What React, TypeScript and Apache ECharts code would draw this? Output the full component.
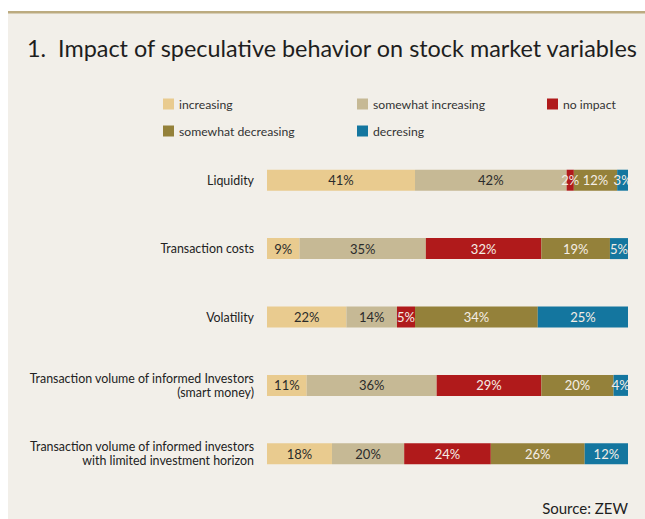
import React, { useEffect, useRef } from "react";
import * as echarts from "echarts";

const categories = [
  "Liquidity",
  "Transaction costs",
  "Volatility",
  "Transaction volume of informed Investors\n(smart money)",
  "Transaction volume of informed investors\nwith limited investment horizon",
];
const seriesNames = ["increasing", "somewhat increasing", "no impact", "somewhat decreasing", "decresing"];
const increasing = [41, 9, 22, 11, 18];
const somewhatIncreasing = [42, 35, 14, 36, 20];
const noImpact = [2, 32, 5, 29, 24];
const somewhatDecreasing = [12, 19, 34, 20, 26];
const decreasing = [3, 5, 25, 4, 12];
const seriesData = [increasing, somewhatIncreasing, noImpact, somewhatDecreasing, decreasing];
const colors = ["#e9cb8f", "#c6b995", "#b01a1b", "#94813a", "#14769f"];
const labelColors = ["#2b2b2b", "#2b2b2b", "#f4eee6", "#f4eee6", "#f4eee6"];
const legendPos = [
  { left: 163, top: 98 },
  { left: 357, top: 98 },
  { left: 547, top: 98 },
  { left: 163, top: 125 },
  { left: 357, top: 125 },
];

export default function App() {
  const ref = useRef<HTMLDivElement>(null);
  useEffect(() => {
    if (!ref.current) return;
    const chart = echarts.init(ref.current, null, { renderer: "svg" });
    const font = "Lato";
    chart.setOption({
      animation: false,
      backgroundColor: "#ffffff",
      textStyle: { fontFamily: font },
      graphic: [
        { type: "rect", shape: { x: 8, y: 13, width: 640, height: 510 }, style: { fill: "#f2efe9" }, z: -10 },
        { type: "rect", shape: { x: 8, y: 11, width: 640, height: 2.5 }, style: { fill: "#bcab80" }, z: -9 },
        {
          type: "text",
          left: 27,
          top: 36,
          style: { text: "1.  Impact of speculative behavior on stock market variables", fill: "#1e1e1e", font: `23.4px ${font}` },
        },
        {
          type: "text",
          right: 17,
          top: 500,
          style: { text: "Source: ZEW", fill: "#1e1e1e", font: `15px ${font}` },
        },
      ],
      legend: seriesNames.map((n, i) => ({
        data: [n],
        left: legendPos[i].left,
        top: legendPos[i].top,
        itemWidth: 11,
        itemHeight: 11,
        itemGap: 5,
        padding: 0,
        icon: "rect",
        selectedMode: false,
        textStyle: { fontFamily: font, fontSize: 12.2, color: "#333", padding: [0, 0, 0, 0] },
      })),
      grid: { left: 267, right: 17, top: 146, bottom: 31, containLabel: false },
      xAxis: { type: "value", min: 0, max: 100, show: false },
      yAxis: {
        type: "category",
        data: categories,
        inverse: true,
        axisLine: { show: false },
        axisTick: { show: false },
        axisLabel: { margin: 13, fontFamily: font, fontSize: 12.4, color: "#222", lineHeight: 14, align: "right" },
      },
      series: seriesNames.map((n, i) => ({
        name: n,
        type: "bar",
        stack: "total",
        barWidth: 21,
        data: seriesData[i],
        itemStyle: { color: colors[i] },
        label: {
          show: true,
          position: "inside",
          formatter: "{c}%",
          color: labelColors[i],
          fontFamily: font,
          fontSize: 13,
        },
      })),
    });
    return () => chart.dispose();
  }, []);
  return <div ref={ref} style={{ position: "absolute", left: 0, top: 0, width: 645, height: 519 }} />;
}
